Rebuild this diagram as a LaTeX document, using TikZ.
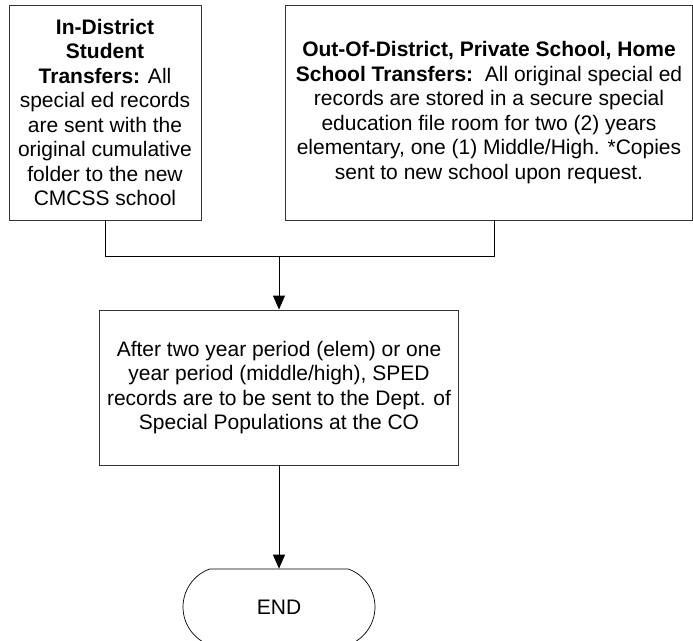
\documentclass[tikz,border=0pt]{standalone}
\usepackage{fontspec}
\setmainfont{Liberation Sans}
\usetikzlibrary{arrows.meta,shapes.misc}
\begin{document}
\begin{tikzpicture}[x=1pt,y=1pt,
  font=\fontsize{21}{24.5}\selectfont,
  box/.style={draw=black!80,line width=0.9pt,align=center,inner sep=0pt},
  term/.style={draw=black,line width=0.7pt,rounded rectangle,
    rounded rectangle arc length=140,minimum width=192pt,minimum height=76pt,inner sep=0pt},
  link/.style={draw=black,line width=0.9pt},
  arr/.style={link,-{Triangle[width=12pt,length=14pt]}}]
 \useasboundingbox (0,0) rectangle (693,-640);
 % transfer boxes
 \node[box,minimum width=192pt,minimum height=215pt] (indist) at (105,-112.5)
   {\textbf{In-District}\\ \textbf{Student}\\ \textbf{Transfers:} All\\ special ed records\\
    are sent with the\\ original cumulative\\ folder to the new\\ CMCSS school};
 \node[box,minimum width=407pt,minimum height=215pt] (outdist) at (489,-112.5)
   {\textbf{Out-Of-District, Private School, Home}\\
    \textbf{School Transfers:}\ \ All original special ed\\
    records are stored in a secure special\\
    education file room for two (2) years\\
    elementary, one (1) Middle/High. *Copies\\
    sent to new school upon request.};
 % after period
 \node[box,minimum width=359pt,minimum height=155pt] (after) at (279,-387.5)
   {After two year period (elem) or one\\ year period (middle/high), SPED\\
    records are to be sent to the Dept. of\\ Special Populations at the CO};
 \node[term] (finish) at (279,-607) {END};
 % connectors
 \coordinate (join) at (279,-256);
 \draw[link] (indist.south) -- ++(0,-36) -| ([xshift=5pt]outdist.south);
 \draw[arr] (join) -- (after.north);
 \draw[arr] (after.south) -- (finish.north);
\end{tikzpicture}
\end{document}
